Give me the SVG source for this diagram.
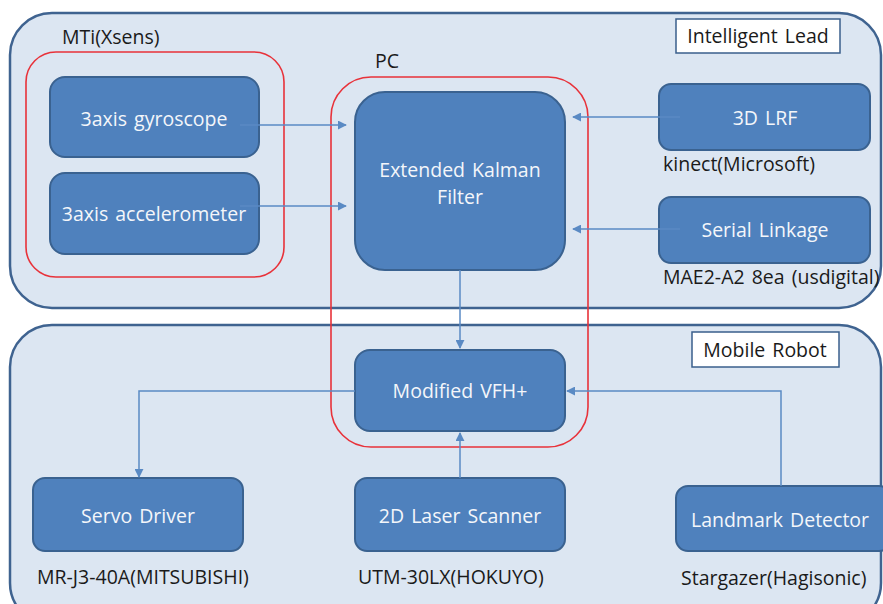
<svg xmlns="http://www.w3.org/2000/svg" width="883" height="604" viewBox="0 0 883 604">
<defs>
<style>
.panel{fill:#dce6f2;stroke:#3f6390;stroke-width:2.5}
.grp{fill:none;stroke:#e8323a;stroke-width:1.6}
.node{fill:#4f81bd;stroke:#3a6290;stroke-width:2}
.lbl{fill:#fff;stroke:#3a5f8c;stroke-width:1.5}
.nt{font-family:"Open Sans","Noto Sans",sans-serif;font-size:19.5px;fill:#f4f6fa;text-anchor:middle;word-spacing:2px}
.t{font-family:"Open Sans","Noto Sans",sans-serif;font-size:19.5px;fill:#1a1a1a;word-spacing:2px}
.c{fill:none;stroke:#5a8ac4;stroke-width:1.5}
</style>
<marker id="ah" viewBox="0 0 10 10" refX="9" refY="5" markerWidth="6" markerHeight="6" orient="auto">
<path d="M0,0 L10,5 L0,10 z" fill="#5a8ac4"/>
</marker>
</defs>
<rect class="panel" x="10" y="13" width="871" height="295" rx="42"/>
<rect class="panel" x="10" y="325" width="871" height="300" rx="42"/>
<g id="intelligent-lead"><rect class="lbl" x="676" y="19" width="164" height="34"/><text class="t" x="758" y="43" text-anchor="middle">Intelligent Lead</text></g>
<g id="mobile-robot"><rect class="lbl" x="692" y="332" width="147" height="35"/><text class="t" x="765" y="357" text-anchor="middle">Mobile Robot</text></g>
<g id="mti"><rect class="grp" x="26" y="52" width="258" height="225" rx="30"/><text class="t" x="62" y="44">MTi(Xsens)</text></g>
<g id="pc"><rect class="grp" x="331" y="77" width="257" height="370" rx="40"/><text class="t" x="375" y="68">PC</text></g>
<g id="gyro"><rect class="node" x="50" y="77" width="209" height="80" rx="15"/><text class="nt" x="154" y="126">3axis gyroscope</text></g>
<g id="accel"><rect class="node" x="50" y="173" width="209" height="81" rx="15"/><text class="nt" x="154" y="221">3axis accelerometer</text></g>
<g id="ekf"><rect class="node" x="355" y="92" width="210" height="178" rx="30"/><text class="nt" x="460" y="177">Extended Kalman</text><text class="nt" x="460" y="204">Filter</text></g>
<g id="lrf"><rect class="node" x="659" y="84" width="211" height="66" rx="12"/><text class="nt" x="765" y="125">3D LRF</text><text class="t" x="663" y="171">kinect(Microsoft)</text></g>
<g id="serial"><rect class="node" x="659" y="197" width="211" height="66" rx="12"/><text class="nt" x="765" y="237">Serial Linkage</text><text class="t" x="663" y="284">MAE2-A2 8ea (usdigital)</text></g>
<g id="vfh"><rect class="node" x="355" y="350" width="210" height="81" rx="15"/><text class="nt" x="460" y="398">Modified VFH+</text></g>
<g id="servo"><rect class="node" x="33" y="478" width="210" height="73" rx="12"/><text class="nt" x="138" y="523">Servo Driver</text><text class="t" x="37" y="584">MR-J3-40A(MITSUBISHI)</text></g>
<g id="laser"><rect class="node" x="355" y="478" width="210" height="73" rx="12"/><text class="nt" x="460" y="523">2D Laser Scanner</text><text class="t" x="358" y="584">UTM-30LX(HOKUYO)</text></g>
<g id="landmark"><rect class="node" x="676" y="486" width="215" height="65" rx="12"/><text class="nt" x="780" y="527">Landmark Detector</text><text class="t" x="681" y="585">Stargazer(Hagisonic)</text></g>
<g id="connectors">
<path class="c" d="M240,125 H346" marker-end="url(#ah)"/>
<path class="c" d="M240,206 H346" marker-end="url(#ah)"/>
<path class="c" d="M680,117 H573" marker-end="url(#ah)"/>
<path class="c" d="M680,229 H573" marker-end="url(#ah)"/>
<path class="c" d="M460,270 V348" marker-end="url(#ah)"/>
<path class="c" d="M355,391 H139 V477" marker-end="url(#ah)"/>
<path class="c" d="M460,478 V433" marker-end="url(#ah)"/>
<path class="c" d="M781,486 V391 H567" marker-end="url(#ah)"/>
</g>
</svg>
